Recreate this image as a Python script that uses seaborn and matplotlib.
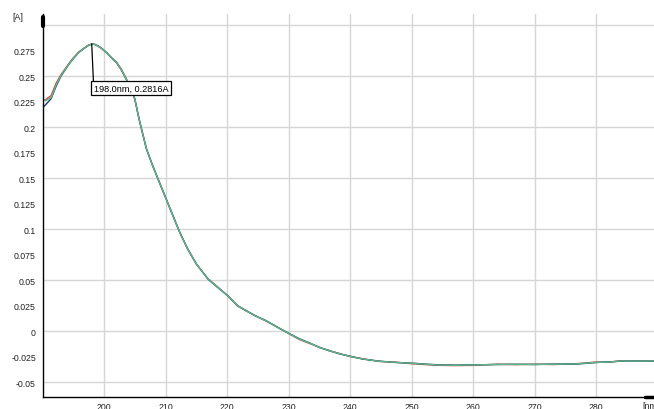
import pandas as pd
import matplotlib
matplotlib.use("Agg")
import matplotlib.pyplot as plt
import seaborn as sns

# wavelengths (nm) and absorbance (A) for the three overlaid scans
wavelength = [190, 190.5, 191.4, 192.2, 193, 194.3, 195, 195.9, 196.5, 197, 197.5, 198, 198.5,
              199, 199.7, 200.5, 201.4, 202, 202.8, 203.6, 204.3, 205, 205.7, 206.1, 206.9,
              207.9, 209, 210.1, 211.2, 212.3, 213.6, 215, 216.9, 218.8, 220.1, 221.7, 223,
              224.5, 226.3, 228.5, 230, 231.7, 233.5, 235, 236.6, 238.3, 240, 242, 244.7,
              247.4, 250, 254, 257, 260, 264, 267, 270, 273, 276.7, 280, 282, 284, 286.5, 289.4]
scan_red = [0.226, 0.227, 0.231, 0.243, 0.2515, 0.2625, 0.2680, 0.2738, 0.2765, 0.2786, 0.2806,
            0.2816, 0.2810, 0.2795, 0.2766, 0.2723, 0.2672, 0.2642, 0.2570, 0.2478, 0.2388, 0.2275,
            0.2082, 0.1978, 0.1789, 0.1621, 0.1462, 0.1295, 0.1136, 0.0968, 0.0809, 0.0658, 0.0515,
            0.0418, 0.0347, 0.0253, 0.0203, 0.0157, 0.0101, 0.0032, -0.0022, -0.0079, -0.0121,
            -0.0155, -0.0192, -0.0218, -0.0248, -0.0268, -0.0296, -0.0302, -0.0318, -0.0333,
            -0.0336, -0.0334, -0.0322, -0.0327, -0.0322, -0.0326, -0.0318, -0.0301, -0.0304,
            -0.0288, -0.0294, -0.0289]
scan_blue = [0.219, 0.222, 0.228, 0.240, 0.2500, 0.2618, 0.2672, 0.2733, 0.2760, 0.2782, 0.2803,
             0.2815, 0.2812, 0.2799, 0.2770, 0.2727, 0.2668, 0.2635, 0.2562, 0.2472, 0.2382, 0.2279,
             0.2078, 0.1982, 0.1785, 0.1626, 0.1458, 0.1299, 0.1131, 0.0972, 0.0805, 0.0662, 0.0511,
             0.0413, 0.0351, 0.0249, 0.0207, 0.0153, 0.0106, 0.0028, -0.0018, -0.0072, -0.0116,
             -0.0159, -0.0188, -0.0222, -0.0244, -0.0272, -0.0292, -0.0306, -0.0312, -0.0328,
             -0.0331, -0.0329, -0.0326, -0.0323, -0.0326, -0.0321, -0.0322, -0.0306, -0.0300,
             -0.0293, -0.0290, -0.0293]
scan_green = [0.227, 0.226, 0.229, 0.241, 0.2506, 0.262, 0.2675, 0.2735, 0.2762, 0.2784, 0.2805,
              0.2816, 0.2811, 0.2797, 0.2768, 0.2725, 0.267, 0.2637, 0.2565, 0.2474, 0.2385, 0.2277,
              0.208, 0.198, 0.1787, 0.1624, 0.146, 0.1297, 0.1133, 0.097, 0.0807, 0.066, 0.0513,
              0.0415, 0.0349, 0.0251, 0.0205, 0.0155, 0.0104, 0.003, -0.002, -0.0075, -0.0118,
              -0.0157, -0.019, -0.022, -0.0246, -0.027, -0.0294, -0.0304, -0.0314, -0.033,
              -0.0333, -0.033, -0.0324, -0.0325, -0.0324, -0.0323, -0.032, -0.0304, -0.0302,
              -0.0291, -0.0292, -0.0291]

x_ticks = [200, 210, 220, 230, 240, 250, 260, 270, 280]
y_major = [-0.05, 0, 0.05, 0.1, 0.15, 0.2, 0.25, 0.3]
y_major_labels = ["-0.05", "0", "0.05", "0.1", "0.15", "0.2", "0.25", ""]
y_minor = [-0.025, 0.025, 0.075, 0.125, 0.175, 0.225, 0.275]
y_minor_labels = ["-0.025", "0.025", "0.075", "0.125", "0.175", "0.225", "0.275"]

df = pd.concat([
    pd.DataFrame({"wl": wavelength, "A": scan_red, "scan": "r"}),
    pd.DataFrame({"wl": wavelength, "A": scan_blue, "scan": "b"}),
    pd.DataFrame({"wl": wavelength, "A": scan_green, "scan": "g"}),
])

sns.set_style("white")
plt.rcParams["font.family"] = ["Liberation Sans", "DejaVu Sans"]

fig = plt.figure(figsize=(6.54, 4.10), dpi=100)
ax = fig.add_axes([0.065, 0.0285, 0.935, 0.935])

sns.lineplot(data=df, x="wl", y="A", hue="scan", hue_order=["r", "b", "g"],
             palette={"r": "#e0403a", "b": "#1d3c78", "g": "#5cb888"},
             linewidth=1.0, legend=False, ax=ax, sort=False, estimator=None)

ax.set_xlim(190, 289.4)
ax.set_ylim(-0.0647, 0.311)
ax.set_xlabel("")
ax.set_ylabel("")

ax.set_xticks(x_ticks, labels=[str(t) for t in x_ticks])
ax.set_yticks(y_major, labels=y_major_labels)
ax.set_yticks(y_minor, labels=y_minor_labels, minor=True)
ax.tick_params(axis="both", which="both", direction="out", length=2.2, width=0.8,
               color="black", labelsize=6.3, labelcolor="#222222", pad=2.5)
ax.tick_params(axis="x", pad=1.5)
ax.grid(True, which="major", color="#d6d6d6", linewidth=1.0)
ax.set_axisbelow(True)

for s in ["top", "right"]:
    ax.spines[s].set_visible(False)
for s in ["left", "bottom"]:
    ax.spines[s].set_color("black")
    ax.spines[s].set_linewidth(1.0)

# axis end markers
ax.plot([0, 0], [0.969, 0.992], transform=ax.transAxes, color="black", lw=3, clip_on=False)
ax.plot([0.985, 1.0], [0, 0], transform=ax.transAxes, color="black", lw=2.5, clip_on=False)

# peak annotation
peak_i = scan_green.index(max(scan_green))
peak_x, peak_y = wavelength[peak_i], scan_green[peak_i]
ax.annotate(f"{peak_x:.1f}nm, {peak_y:.4f}A", xy=(peak_x, peak_y),
            xytext=(1.3, -28.7), textcoords="offset points", ha="left", va="top",
            fontsize=6.6, color="black",
            bbox=dict(boxstyle="square,pad=0.28", fc="white", ec="black", lw=0.9),
            arrowprops=dict(arrowstyle="-", color="black", lw=0.9, shrinkA=0, shrinkB=0,
                            relpos=(0, 1)))

fig.text(17.5 / 654, 1 - 17.5 / 410, "[A]", ha="center", va="center", fontsize=6.3, color="#222222")
fig.text(642 / 654, 1 - 402 / 410, "[nm", ha="left", va="top", fontsize=6.3, color="#222222")

fig.savefig("out.png", dpi=100)
